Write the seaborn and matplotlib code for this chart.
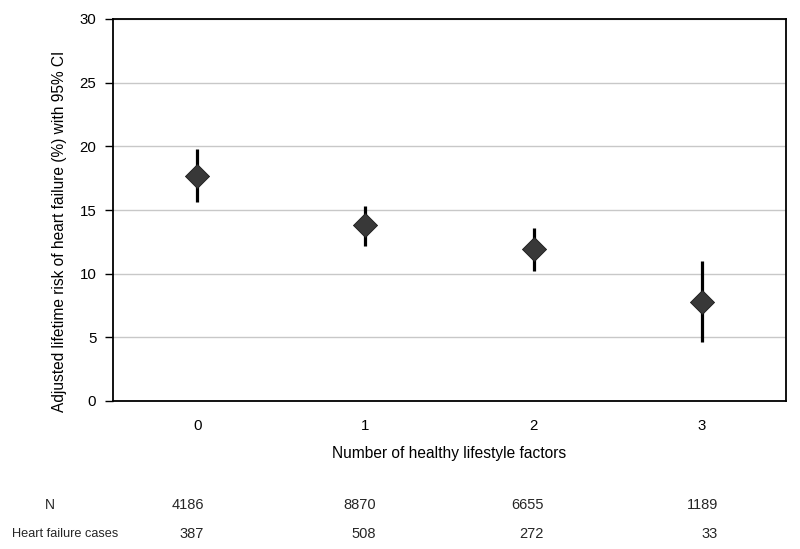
import matplotlib
matplotlib.use("Agg")
import matplotlib.pyplot as plt
import seaborn as sns
import pandas as pd
import numpy as np

# Data
factors = ["0", "1", "2", "3"]
risk = [17.7, 13.8, 11.9, 7.8]
ci_low = [15.6, 12.2, 10.2, 4.6]
ci_high = [19.8, 15.3, 13.6, 11.0]
n_counts = ["4186", "8870", "6655", "1189"]
hf_cases = ["387", "508", "272", "33"]

sns.set_theme(style="white")
plt.rcParams["font.family"] = ["Liberation Sans", "DejaVu Sans"]

fig = plt.figure(figsize=(8.0, 5.49), dpi=100)
ax = fig.add_axes([113 / 800, 1 - 401 / 549, (786 - 113) / 800, (401 - 19) / 549])

pos = np.arange(len(factors))
df = pd.DataFrame({"pos": pos, "risk": risk})

# CI lines
ax.vlines(pos, ci_low, ci_high, colors="black", linewidth=2.3, zorder=3)
# point estimates
sns.scatterplot(data=df, x="pos", y="risk", marker="D", s=150, color="#383838",
                edgecolor="#1a1a1a", linewidth=0.6, zorder=4, ax=ax, legend=False)

ax.set_xlim(-0.5, 3.5)
ax.set_ylim(0, 30)
ax.set_yticks(np.arange(0, 31, 5))
ax.yaxis.grid(True, color="#c8c8c8", linewidth=1.0)
ax.set_axisbelow(True)

ax.set_xticks(pos)
ax.set_xticklabels(factors)
ax.set_xticks(np.arange(-0.5, 3.6, 1.0), minor=True)
ax.tick_params(axis="x", which="major", length=0, pad=13, labelsize=10.8, colors="black")
ax.tick_params(axis="x", which="minor", direction="inout", length=8, width=1.0, color="black")
ax.tick_params(axis="y", which="major", direction="out", length=6, width=1.0, pad=6,
               labelsize=10.8, left=True, colors="black")

for sp in ax.spines.values():
    sp.set_visible(True)
    sp.set_color("black")
    sp.set_linewidth(1.3)

ax.set_xlabel("Number of healthy lifestyle factors", fontsize=11.2, labelpad=9, color="black")
ax.set_ylabel("Adjusted lifetime risk of heart failure (%) with 95% CI", fontsize=11.2,
              color="black")
ax.yaxis.set_label_coords(-0.068, (401 - 231) / 382)

# table below
right_edges = [204, 376, 544, 718]
fig.text(45 / 800, 1 - 505 / 549, "N", fontsize=10, ha="left", va="center")
fig.text(12 / 800, 1 - 534 / 549, "Heart failure cases", fontsize=9.2, ha="left", va="center")
for xe, n, c in zip(right_edges, n_counts, hf_cases):
    fig.text(xe / 800, 1 - 505 / 549, n, fontsize=10.5, ha="right", va="center")
    fig.text(xe / 800, 1 - 534 / 549, c, fontsize=10.5, ha="right", va="center")

fig.savefig("out.png", dpi=100, facecolor="white")
